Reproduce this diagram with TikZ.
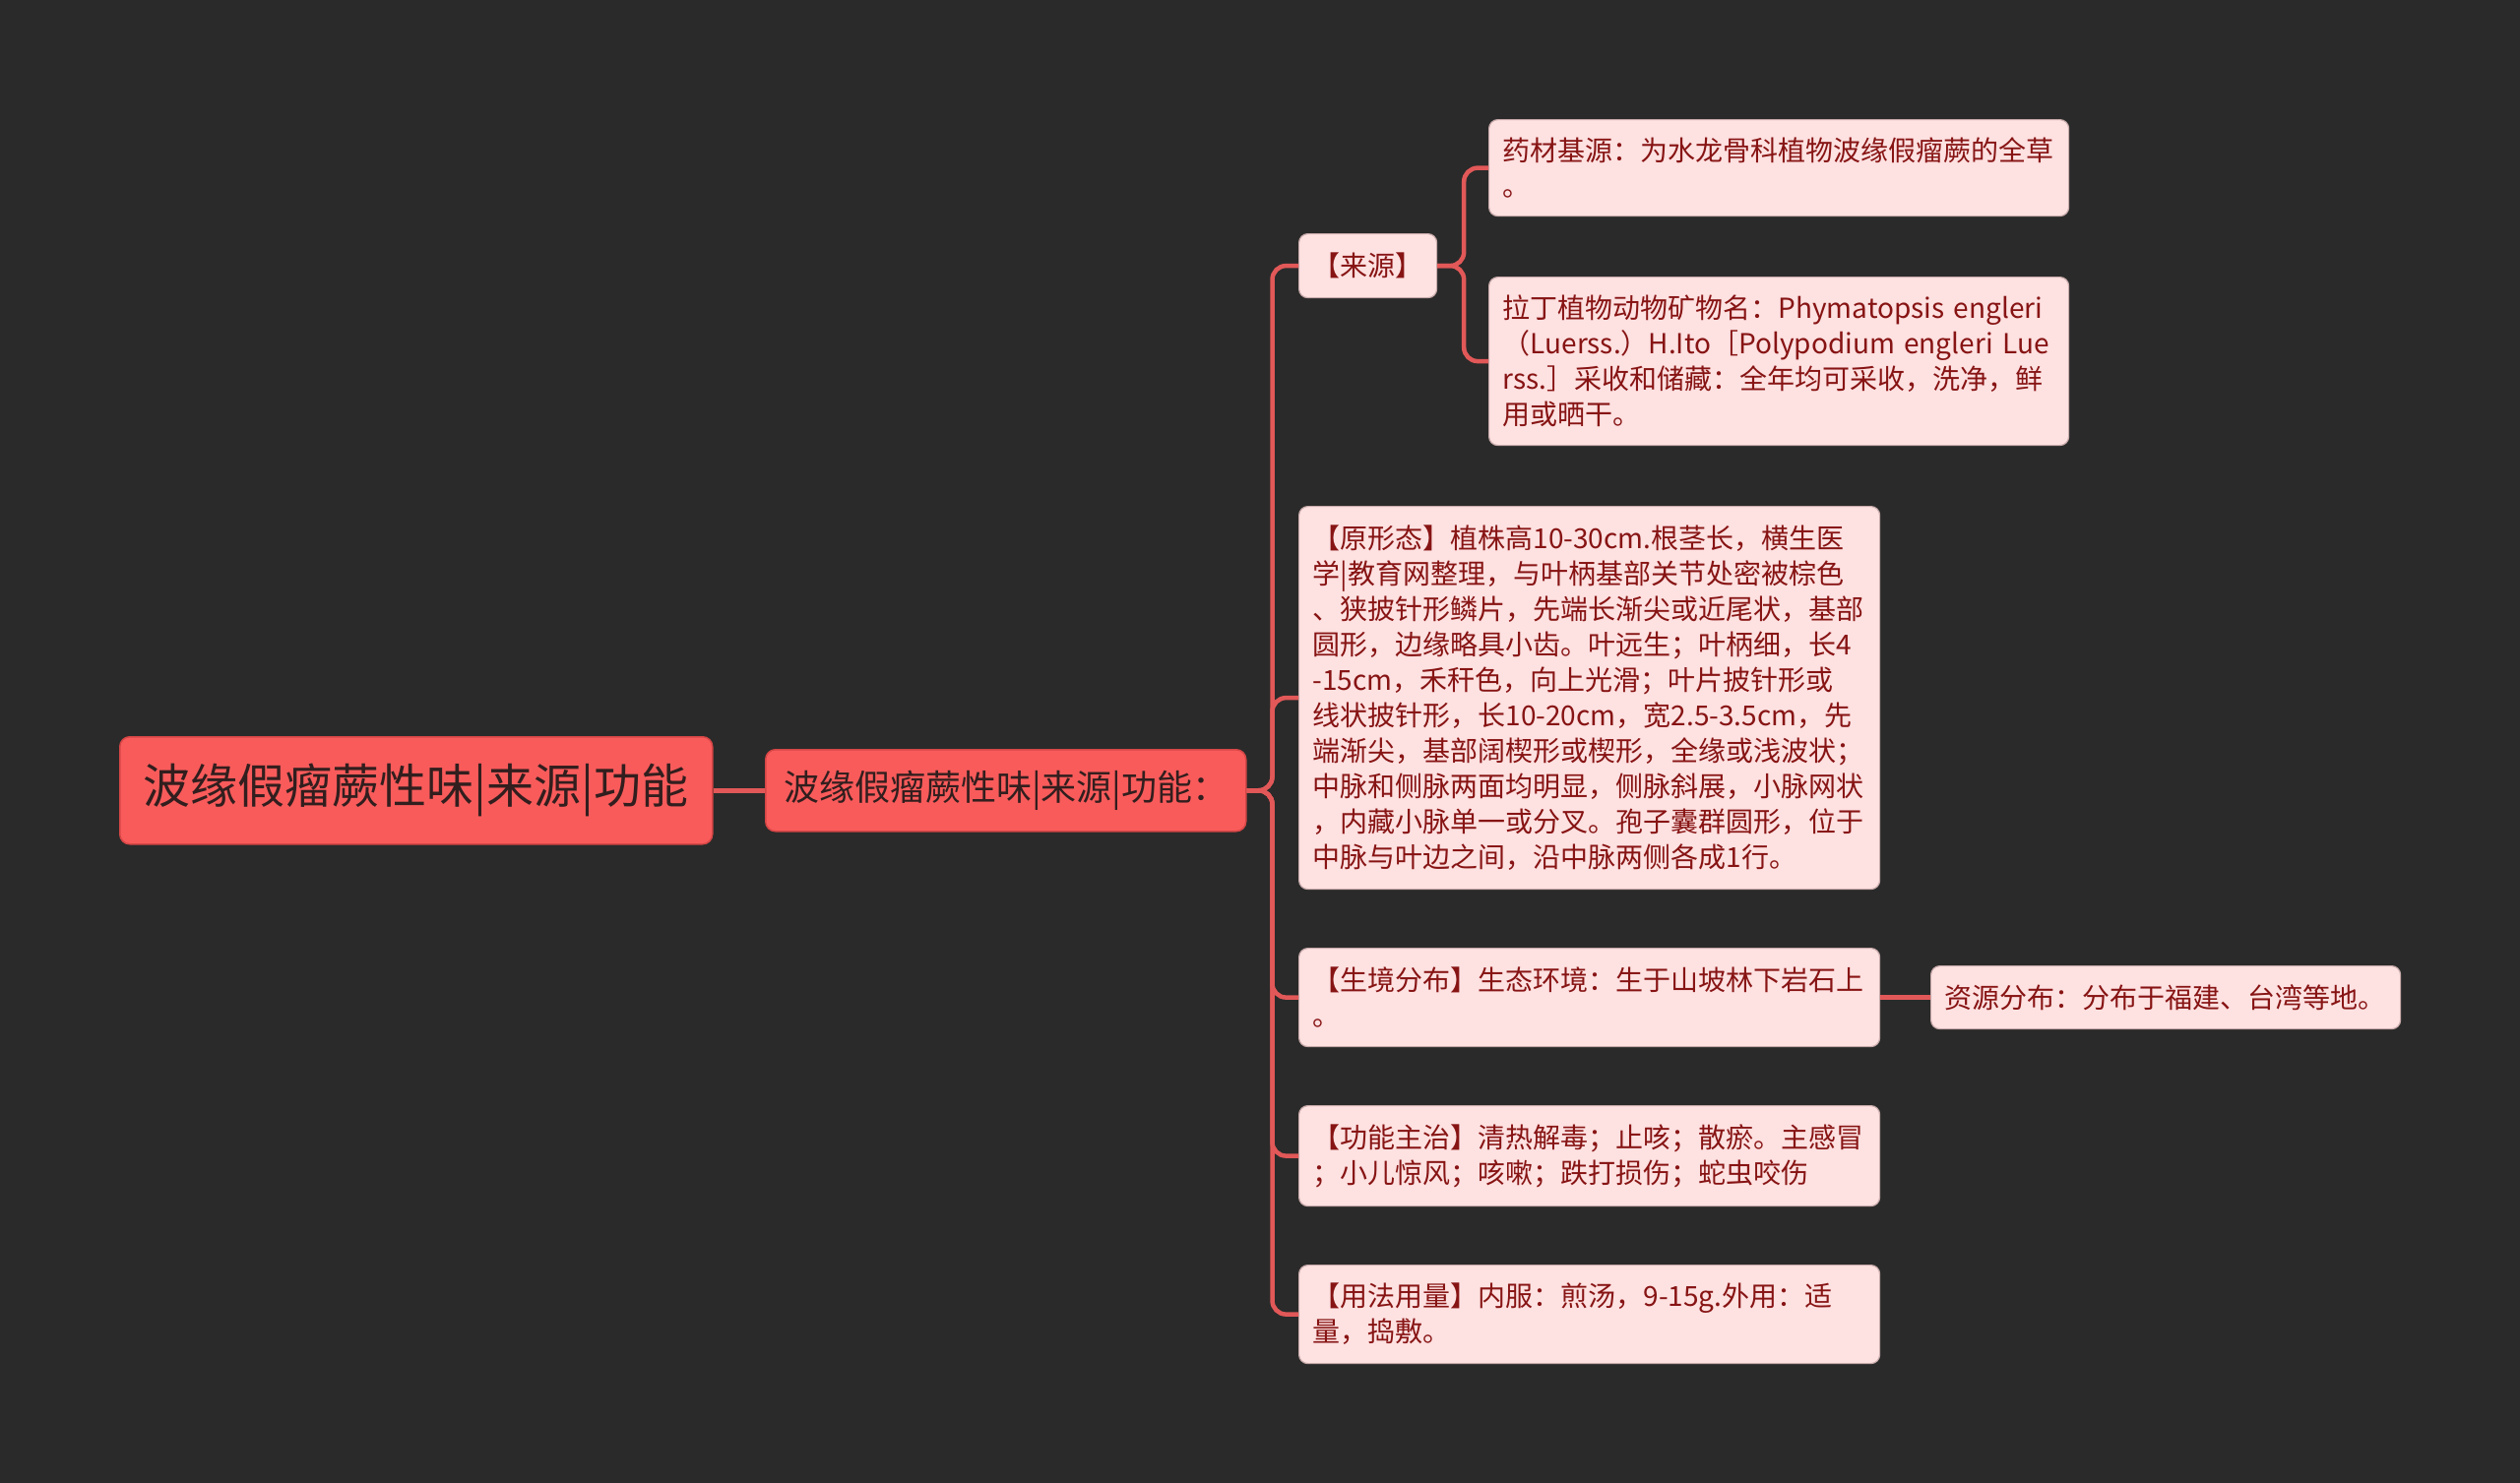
\documentclass[tikz,border=0pt]{standalone}
\usepackage{fontspec}
\setmainfont{Noto Sans CJK SC}
\definecolor{bgcol}{RGB}{42,42,42}
\definecolor{rootfill}{RGB}{249,91,91}
\definecolor{rootborder}{RGB}{215,70,70}
\definecolor{roottext}{RGB}{50,30,30}
\definecolor{leaffill}{RGB}{254,225,225}
\definecolor{leafborder}{RGB}{200,170,170}
\definecolor{leaftext}{RGB}{135,20,20}
\definecolor{linecol}{RGB}{226,88,88}
\begin{document}
\begin{tikzpicture}[x=1pt,y=-1pt,
  rootbox/.style={draw=rootborder, line width=1.5pt, fill=rootfill, rounded corners=10pt, text=roottext, anchor=north west, inner sep=0pt},
  leaf/.style={draw=leafborder, line width=1.2pt, fill=leaffill, rounded corners=9pt, text=leaftext, font=\fontsize{28}{36}\selectfont, align=left, inner xsep=14pt, inner ysep=0pt, anchor=north west},
  conn/.style={draw=linecol, line width=4.5pt, rounded corners=14pt}]
\useasboundingbox (0,0) rectangle (2560,1507);
\fill[bgcol] (0,0) rectangle (2560,1507);

\node[rootbox, minimum width=602pt, minimum height=109pt, font=\fontsize{48}{56}\selectfont] (root) at (121,748) {波缘假瘤蕨性味|来源|功能};
\node[rootbox, minimum width=488pt, minimum height=83pt, font=\fontsize{36}{42}\selectfont] (sec) at (777,761) {波缘假瘤蕨性味|来源|功能：};

\node[leaf, text width=112pt, minimum height=65pt] (ly) at (1319,237) {【来源】};
\node[leaf, text width=561pt, minimum height=98pt] (ycj) at (1512,121) {药材基源：为水龙骨科植物波缘假瘤蕨的全草\\。};
\node[leaf, text width=561pt, minimum height=171pt] (ld) at (1512,281) {拉丁植物动物矿物名：Phymatopsis engleri\\（Luerss.）H.Ito［Polypodium engleri Lue\\rss.］采收和储藏：全年均可采收，洗净，鲜\\用或晒干。};
\node[leaf, text width=562pt, minimum height=389pt] (yxt) at (1319,514) {【原形态】植株高10-30cm.根茎长，横生医\\学|教育网整理，与叶柄基部关节处密被棕色\\、狭披针形鳞片，先端长渐尖或近尾状，基部\\圆形，边缘略具小齿。叶远生；叶柄细，长4\\-15cm，禾秆色，向上光滑；叶片披针形或\\线状披针形，长10-20cm，宽2.5-3.5cm，先\\端渐尖，基部阔楔形或楔形，全缘或浅波状；\\中脉和侧脉两面均明显，侧脉斜展，小脉网状\\，内藏小脉单一或分叉。孢子囊群圆形，位于\\中脉与叶边之间，沿中脉两侧各成1行。};
\node[leaf, text width=562pt, minimum height=100pt] (sj) at (1319,963) {【生境分布】生态环境：生于山坡林下岩石上\\。};
\node[leaf, text width=449pt, minimum height=64pt] (zy) at (1961,981) {资源分布：分布于福建、台湾等地。};
\node[leaf, text width=562pt, minimum height=102pt] (gn) at (1319,1123) {【功能主治】清热解毒；止咳；散瘀。主感冒\\；小儿惊风；咳嗽；跌打损伤；蛇虫咬伤};
\node[leaf, text width=562pt, minimum height=100pt] (yf) at (1319,1285) {【用法用量】内服：煎汤，9-15g.外用：适\\量，捣敷。};

\draw[conn] (root.east) -- (sec.west);
\draw[conn] (sec.east) -- ++(26,0) |- (ly.west);
\draw[conn] (sec.east) -- ++(26,0) |- (yxt.west);
\draw[conn] (sec.east) -- ++(26,0) |- (sj.west);
\draw[conn] (sec.east) -- ++(26,0) |- (gn.west);
\draw[conn] (sec.east) -- ++(26,0) |- (yf.west);
\draw[conn] (ly.east) -- ++(27,0) |- (ycj.west);
\draw[conn] (ly.east) -- ++(27,0) |- (ld.west);
\draw[conn] (sj.east) -- (zy.west);
\end{tikzpicture}
\end{document}
